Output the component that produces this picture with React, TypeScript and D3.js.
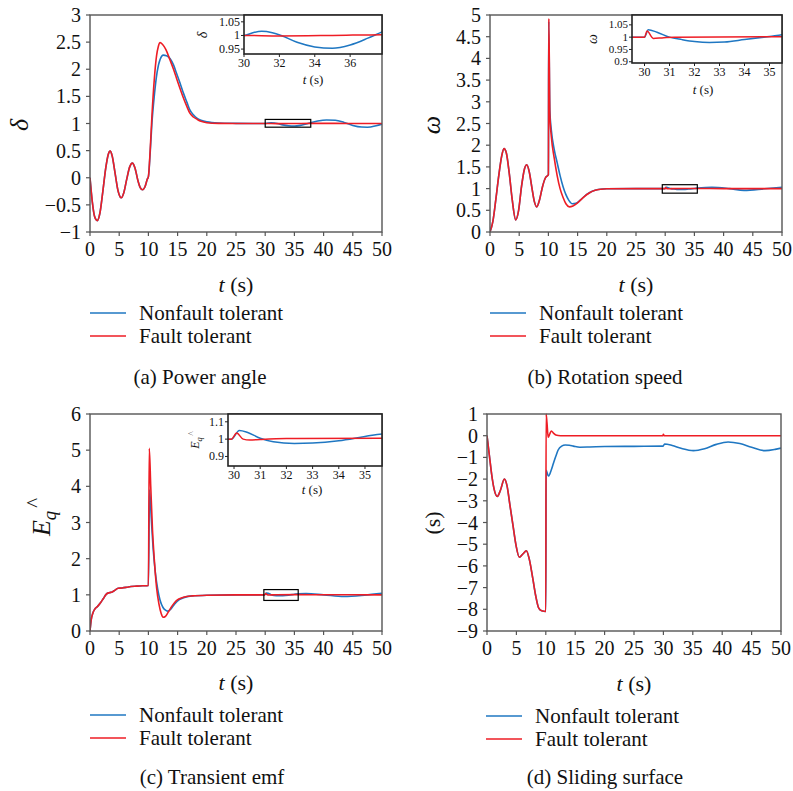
import React from 'react';
import * as d3 from 'd3';

type Pt = [number, number];

const BLUE = '#1f77c2';
const RED = '#ee1d25';
const FONT = "'Liberation Serif', 'DejaVu Serif', serif";

const timeTicks = [0, 5, 10, 15, 20, 25, 30, 35, 40, 45, 50];
const legendLabels = ['Nonfault tolerant', 'Fault tolerant'];

// (a) power angle
const angleShared: Pt[] = [
  [0, 0], [0.4, -0.45], [0.8, -0.72], [1.25, -0.79], [1.7, -0.65], [2.2, -0.25], [2.7, 0.18],
  [3.1, 0.42], [3.45, 0.49], [3.8, 0.4], [4.3, 0.08], [4.8, -0.24], [5.35, -0.37], [5.8, -0.27],
  [6.3, -0.02], [6.8, 0.2], [7.25, 0.27], [7.7, 0.18], [8.2, -0.05], [8.6, -0.18], [9.0, -0.22],
  [9.4, -0.17], [9.8, -0.03], [10.0, 0.02],
];
const angleNonfault: Pt[] = [
  ...angleShared,
  [10.3, 0.45], [10.6, 1.0], [11.0, 1.5], [11.5, 1.95], [12.0, 2.18], [12.55, 2.26], [13.1, 2.25],
  [13.7, 2.2], [14.3, 2.08], [14.8, 1.93], [15.4, 1.75], [16.0, 1.56], [16.6, 1.39], [17.1, 1.25],
  [17.7, 1.16], [18.3, 1.1], [19, 1.06], [20, 1.03], [22, 1.01], [25, 1.003], [28, 1.0], [30, 1.0],
  [30.5, 1.01], [31.0, 1.015], [31.6, 1.01], [32.1, 1.0], [33, 0.975], [34, 0.958], [35, 0.953],
  [36, 0.965], [37, 0.99], [37.8, 1.013], [39, 1.045], [40.5, 1.065], [42, 1.06], [43.5, 1.02],
  [45, 0.965], [46.5, 0.935], [47.5, 0.932], [49, 0.96], [50, 0.99],
];
const angleFault: Pt[] = [
  ...angleShared,
  [10.3, 0.5], [10.6, 1.13], [11.0, 1.8], [11.4, 2.25], [11.7, 2.42], [12.0, 2.49], [12.4, 2.46],
  [13.0, 2.36], [13.7, 2.17], [14.3, 2.0], [14.8, 1.84], [15.4, 1.65], [16.0, 1.47], [16.6, 1.31],
  [17.1, 1.19], [17.7, 1.12], [18.3, 1.08], [19.0, 1.04], [20, 1.015], [22, 1.003], [25, 1.0],
  [30, 1.0], [32, 0.998], [35, 1.0], [38, 1.003], [42, 1.002], [46, 1.0], [50, 1.0],
];

// (b) rotation speed
const speedShared: Pt[] = [
  [0, 0], [0.5, 0.25], [1.0, 0.75], [1.5, 1.3], [2.0, 1.75], [2.4, 1.92], [2.8, 1.82], [3.3, 1.35],
  [3.8, 0.75], [4.4, 0.28], [4.9, 0.5], [5.4, 1.05], [5.9, 1.45], [6.3, 1.55], [6.7, 1.4], [7.2, 1.0],
  [7.6, 0.7], [8.0, 0.58], [8.5, 0.75], [9.0, 1.05], [9.5, 1.25], [10.0, 1.32],
];
const speedNonfault: Pt[] = [
  ...speedShared,
  [10.05, 4.85], [10.25, 2.8], [10.5, 2.35], [11.0, 1.9], [11.5, 1.6], [12.0, 1.3], [12.5, 1.05],
  [13.0, 0.86], [13.5, 0.73], [14.1, 0.65], [14.7, 0.66], [15.5, 0.74], [16.5, 0.86], [17.5, 0.94],
  [18.5, 0.98], [20, 0.995], [25, 1.0], [30, 1.0], [30.15, 1.03], [30.5, 1.02], [31, 1.0],
  [31.5, 0.99], [32, 0.982], [32.6, 0.978], [33.2, 0.98], [34, 0.99], [35, 1.003], [35.5, 1.01],
  [38, 1.03], [41, 1.0], [43.5, 0.96], [47, 0.995], [50, 1.03],
];
const speedFault: Pt[] = [
  ...speedShared,
  [10.07, 4.92], [10.25, 2.7], [10.5, 2.2], [11.0, 1.7], [11.5, 1.3], [12.0, 1.0], [12.5, 0.8],
  [13.0, 0.65], [13.6, 0.58], [14.2, 0.6], [15, 0.67], [16, 0.8], [17, 0.9], [18, 0.96], [19, 0.985],
  [20, 0.995], [25, 1.0], [30, 1.0], [30.1, 1.025], [30.35, 0.995], [30.7, 0.997], [31.2, 1.0],
  [35.5, 1.002], [40, 1.0], [50, 1.0],
];

// (c) transient emf
const emfShared: Pt[] = [
  [0, 0], [0.2, 0.3], [0.5, 0.5], [0.8, 0.6], [1.3, 0.68], [1.8, 0.78], [2.3, 0.9], [2.8, 1.02],
  [3.3, 1.06], [3.8, 1.08], [4.3, 1.13], [4.8, 1.18], [5.5, 1.19], [6.3, 1.21], [7, 1.23], [8, 1.24],
  [9, 1.25], [10, 1.26],
];
const emfNonfault: Pt[] = [
  ...emfShared,
  [10.2, 3.9], [10.5, 3.1], [10.8, 2.3], [11.2, 1.6], [11.6, 1.15], [12.0, 0.85], [12.5, 0.65],
  [13.0, 0.57], [13.3, 0.55], [13.8, 0.6], [14.5, 0.75], [15.3, 0.87], [16.2, 0.93], [17.5, 0.97],
  [20, 0.99], [25, 1.0], [29.9, 1.0], [30.2, 1.05], [30.5, 1.04], [31, 1.005], [31.5, 0.985],
  [32.3, 0.975], [33, 0.977], [34, 0.99], [35, 1.015], [35.65, 1.03], [37, 1.035], [40, 1.0],
  [43.5, 0.955], [47, 0.99], [50, 1.04],
];
const emfFault: Pt[] = [
  ...emfShared,
  [10.15, 5.05], [10.4, 4.0], [10.7, 2.8], [11.0, 2.0], [11.4, 1.2], [11.8, 0.75], [12.2, 0.48],
  [12.5, 0.38], [12.9, 0.4], [13.4, 0.52], [14, 0.68], [14.8, 0.84], [16, 0.93], [17.5, 0.97],
  [20, 0.99], [25, 1.0], [29.9, 1.0], [30.1, 1.035], [30.35, 1.0], [30.6, 0.995], [31, 0.998],
  [32, 1.003], [35.6, 1.005], [40, 1.003], [50, 1.0],
];

// (d) sliding surface
const slideShared: Pt[] = [
  [0, 0], [0.4, -0.9], [0.8, -1.8], [1.2, -2.45], [1.75, -2.8], [2.3, -2.5], [2.95, -2.0],
  [3.4, -2.3], [3.9, -3.2], [4.4, -4.1], [4.9, -5.0], [5.5, -5.6], [6.1, -5.45], [6.7, -5.3],
  [7.2, -5.7], [7.8, -6.6], [8.3, -7.4], [8.8, -7.95], [9.3, -8.07], [10.0, -8.1],
];
const slideNonfault: Pt[] = [
  ...slideShared,
  [10.05, -1.6], [10.45, -1.86], [10.9, -1.6], [11.3, -1.27], [11.7, -0.95], [12.1, -0.66],
  [12.7, -0.48], [13.3, -0.43], [14, -0.44], [14.7, -0.48], [15.8, -0.53], [17.5, -0.52],
  [20, -0.5], [25, -0.49], [29.95, -0.48], [30.2, -0.38], [31.5, -0.45], [33, -0.58], [35.1, -0.69],
  [37, -0.6], [39, -0.4], [41, -0.29], [43, -0.36], [45, -0.53], [47.3, -0.69], [49, -0.63],
  [50, -0.57],
];
const slideFault: Pt[] = [
  ...slideShared,
  [10.05, 1.0], [10.2, 0.6], [10.4, -0.07], [10.7, 0.1], [10.95, 0.22], [11.3, 0.12], [11.7, 0.03],
  [12.5, 0.0], [29.9, 0.0], [30.0, 0.06], [30.15, 0.0], [50, 0.0],
];

interface Inset {
  box: [number, number, number, number]; // left, right, top, bottom
  xDomain: [number, number];
  yDomain: [number, number];
  xTicks: number[];
  yTicks: number[];
  tickSize: number;
  yLabelPos: [number, number];
  xLabelPos: [number, number];
}

interface PanelCfg {
  id: string;
  left: number; right: number; top: number; bottom: number;
  yDomain: [number, number];
  yTicks: number[];
  yLabel: 'delta' | 'omega' | 'emf' | 's';
  yLabelPos: [number, number];
  xLabelY: number;
  legendX: number; legendY: number;
  caption: string; captionX: number; captionY: number;
  nonfault: Pt[]; fault: Pt[];
  inset?: Inset;
}

const panels: PanelCfg[] = [
  {
    id: 'a', left: 90, right: 382, top: 15, bottom: 232,
    yDomain: [-1, 3], yTicks: [-1, -0.5, 0, 0.5, 1, 1.5, 2, 2.5, 3],
    yLabel: 'delta', yLabelPos: [28, 125], xLabelY: 292,
    legendX: 90, legendY: 313,
    caption: '(a) Power angle', captionX: 200, captionY: 384,
    nonfault: angleNonfault, fault: angleFault,
    inset: {
      box: [244, 382, 15, 54], xDomain: [30, 37.8], yDomain: [0.932, 1.075],
      xTicks: [30, 32, 34, 36], yTicks: [0.95, 1, 1.05], tickSize: 12,
      yLabelPos: [207, 35], xLabelPos: [313, 84],
    },
  },
  {
    id: 'b', left: 490, right: 782, top: 15, bottom: 232,
    yDomain: [0, 5], yTicks: [0, 0.5, 1, 1.5, 2, 2.5, 3, 3.5, 4, 4.5, 5],
    yLabel: 'omega', yLabelPos: [440, 125], xLabelY: 292,
    legendX: 490, legendY: 313,
    caption: '(b) Rotation speed', captionX: 605, captionY: 384,
    nonfault: speedNonfault, fault: speedFault,
    inset: {
      box: [632, 782, 15, 63], xDomain: [29.5, 35.5], yDomain: [0.895, 1.09],
      xTicks: [30, 31, 32, 33, 34, 35], yTicks: [0.9, 0.95, 1, 1.05], tickSize: 11,
      yLabelPos: [597, 39], xLabelPos: [703, 94],
    },
  },
  {
    id: 'c', left: 90, right: 382, top: 414, bottom: 631,
    yDomain: [0, 6], yTicks: [0, 1, 2, 3, 4, 5, 6],
    yLabel: 'emf', yLabelPos: [50, 517], xLabelY: 690,
    legendX: 90, legendY: 715,
    caption: '(c) Transient emf', captionX: 212, captionY: 784,
    nonfault: emfNonfault, fault: emfFault,
    inset: {
      box: [228, 382, 414, 466], xDomain: [29.77, 35.65], yDomain: [0.845, 1.145],
      xTicks: [30, 31, 32, 33, 34, 35], yTicks: [0.9, 1, 1.1], tickSize: 12,
      yLabelPos: [199, 440], xLabelPos: [312, 494],
    },
  },
  {
    id: 'd', left: 487, right: 781, top: 414, bottom: 631,
    yDomain: [-9, 1], yTicks: [-9, -8, -7, -6, -5, -4, -3, -2, -1, 0, 1],
    yLabel: 's', yLabelPos: [440, 523], xLabelY: 691,
    legendX: 486, legendY: 716,
    caption: '(d) Sliding surface', captionX: 605, captionY: 784,
    nonfault: slideNonfault, fault: slideFault,
  },
];

const fmt = (v: number) => (v < 0 ? '\u2212' + String(Math.abs(v)) : String(v));

function YLabel({ kind, x, y, size }: { kind: PanelCfg['yLabel']; x: number; y: number; size: number }) {
  const common = {
    transform: `translate(${x},${y}) rotate(-90)`,
    textAnchor: 'middle' as const,
    fontSize: size,
    fill: '#111',
  };
  if (kind === 'delta') return <text {...common} fontStyle="italic">δ</text>;
  if (kind === 'omega') return <text {...common} fontStyle="italic">ω</text>;
  if (kind === 's') return <text {...common}>(s)</text>;
  return (
    <text {...common}>
      <tspan fontStyle="italic">E</tspan>
      <tspan fontStyle="italic" fontSize={size * 0.72} dy={size * 0.22}>q</tspan>
      <tspan fontSize={size * 0.8} dx={size * 0.12} dy={-size * 0.55}>^</tspan>
    </text>
  );
}

function Panel({ p }: { p: PanelCfg }) {
  const x = d3.scaleLinear().domain([0, 50]).range([p.left, p.right]);
  const y = d3.scaleLinear().domain(p.yDomain).range([p.bottom, p.top]);
  const line = d3.line<Pt>().x(d => x(d[0])).y(d => y(d[1])).curve(d3.curveMonotoneX);
  const cx = (p.left + p.right) / 2;
  const ins = p.inset;

  let insetEl = null;
  let boxEl = null;
  if (ins) {
    const [l, r, t, b] = ins.box;
    const ix = d3.scaleLinear().domain(ins.xDomain).range([l, r]);
    const iy = d3.scaleLinear().domain(ins.yDomain).range([b, t]);
    const iline = d3.line<Pt>().x(d => ix(d[0])).y(d => iy(d[1])).curve(d3.curveMonotoneX);
    boxEl = (
      <rect
        x={x(ins.xDomain[0])} y={y(ins.yDomain[1])}
        width={x(ins.xDomain[1]) - x(ins.xDomain[0])}
        height={y(ins.yDomain[0]) - y(ins.yDomain[1])}
        fill="none" stroke="#000" strokeWidth={1.2}
      />
    );
    insetEl = (
      <g>
        <clipPath id={`ic-${p.id}`}>
          <rect x={l} y={t} width={r - l} height={b - t} />
        </clipPath>
        <rect x={l} y={t} width={r - l} height={b - t} fill="#fff" />
        <g clipPath={`url(#ic-${p.id})`} fill="none" strokeWidth={1.5}>
          <path d={iline(p.nonfault) || ''} stroke={BLUE} />
          <path d={iline(p.fault) || ''} stroke={RED} />
        </g>
        <rect x={l} y={t} width={r - l} height={b - t} fill="none" stroke="#222" strokeWidth={1.6} />
        {ins.yTicks.map(v => (
          <g key={`iy${v}`}>
            <line x1={l - 3} x2={l} y1={iy(v)} y2={iy(v)} stroke="#222" />
            <text x={l - 4} y={iy(v)} dy="0.33em" textAnchor="end" fontSize={ins.tickSize}>{fmt(v)}</text>
          </g>
        ))}
        {ins.xTicks.map(v => (
          <g key={`ix${v}`}>
            <line x1={ix(v)} x2={ix(v)} y1={b} y2={b + 3} stroke="#222" />
            <text x={ix(v)} y={b + 13} textAnchor="middle" fontSize={12}>{fmt(v)}</text>
          </g>
        ))}
        <text x={ins.xLabelPos[0]} y={ins.xLabelPos[1]} textAnchor="middle" fontSize={13}>
          <tspan fontStyle="italic">t</tspan> (s)
        </text>
        <YLabel kind={p.yLabel} x={ins.yLabelPos[0]} y={ins.yLabelPos[1]} size={p.yLabel === 'emf' ? 12 : 14} />
      </g>
    );
  }

  return (
    <g>
      <clipPath id={`mc-${p.id}`}>
        <rect x={p.left} y={p.top - 1} width={p.right - p.left} height={p.bottom - p.top + 2} />
      </clipPath>
      <g clipPath={`url(#mc-${p.id})`} fill="none" strokeWidth={1.6}>
        <path d={line(p.nonfault) || ''} stroke={BLUE} />
        <path d={line(p.fault) || ''} stroke={RED} />
      </g>
      <rect x={p.left} y={p.top} width={p.right - p.left} height={p.bottom - p.top}
        fill="none" stroke="#555" strokeWidth={1.4} />
      {p.yTicks.map(v => (
        <g key={`y${v}`}>
          <line x1={p.left - 4} x2={p.left} y1={y(v)} y2={y(v)} stroke="#555" strokeWidth={1.2} />
          <text x={p.left - 9} y={y(v)} dy="0.35em" textAnchor="end" fontSize={20}>{fmt(v)}</text>
        </g>
      ))}
      {timeTicks.map(v => (
        <g key={`x${v}`}>
          <line x1={x(v)} x2={x(v)} y1={p.bottom} y2={p.bottom + 4} stroke="#555" strokeWidth={1.2} />
          <text x={x(v)} y={p.bottom + 24} textAnchor="middle" fontSize={20}>{fmt(v)}</text>
        </g>
      ))}
      {boxEl}
      {insetEl}
      <YLabel kind={p.yLabel} x={p.yLabelPos[0]} y={p.yLabelPos[1]} size={p.yLabel === 's' ? 22 : 26} />
      <text x={cx} y={p.xLabelY} textAnchor="middle" fontSize={22}>
        <tspan fontStyle="italic">t</tspan> (s)
      </text>
      {legendLabels.map((lab, i) => (
        <g key={lab}>
          <line x1={p.legendX} x2={p.legendX + 36} y1={p.legendY + i * 23} y2={p.legendY + i * 23}
            stroke={i === 0 ? BLUE : RED} strokeWidth={1.5} />
          <text x={p.legendX + 49} y={p.legendY + i * 23} dy="0.33em" fontSize={21}>{lab}</text>
        </g>
      ))}
      <text x={p.captionX} y={p.captionY} textAnchor="middle" fontSize={21}>{p.caption}</text>
    </g>
  );
}

export default function App() {
  return (
    <svg width={793} height={791}
      style={{ position: 'absolute', left: 0, top: 0, background: '#fff', fontFamily: FONT }}
      fill="#111">
      <rect width={793} height={791} fill="#fff" />
      {panels.map(p => <Panel key={p.id} p={p} />)}
    </svg>
  );
}
